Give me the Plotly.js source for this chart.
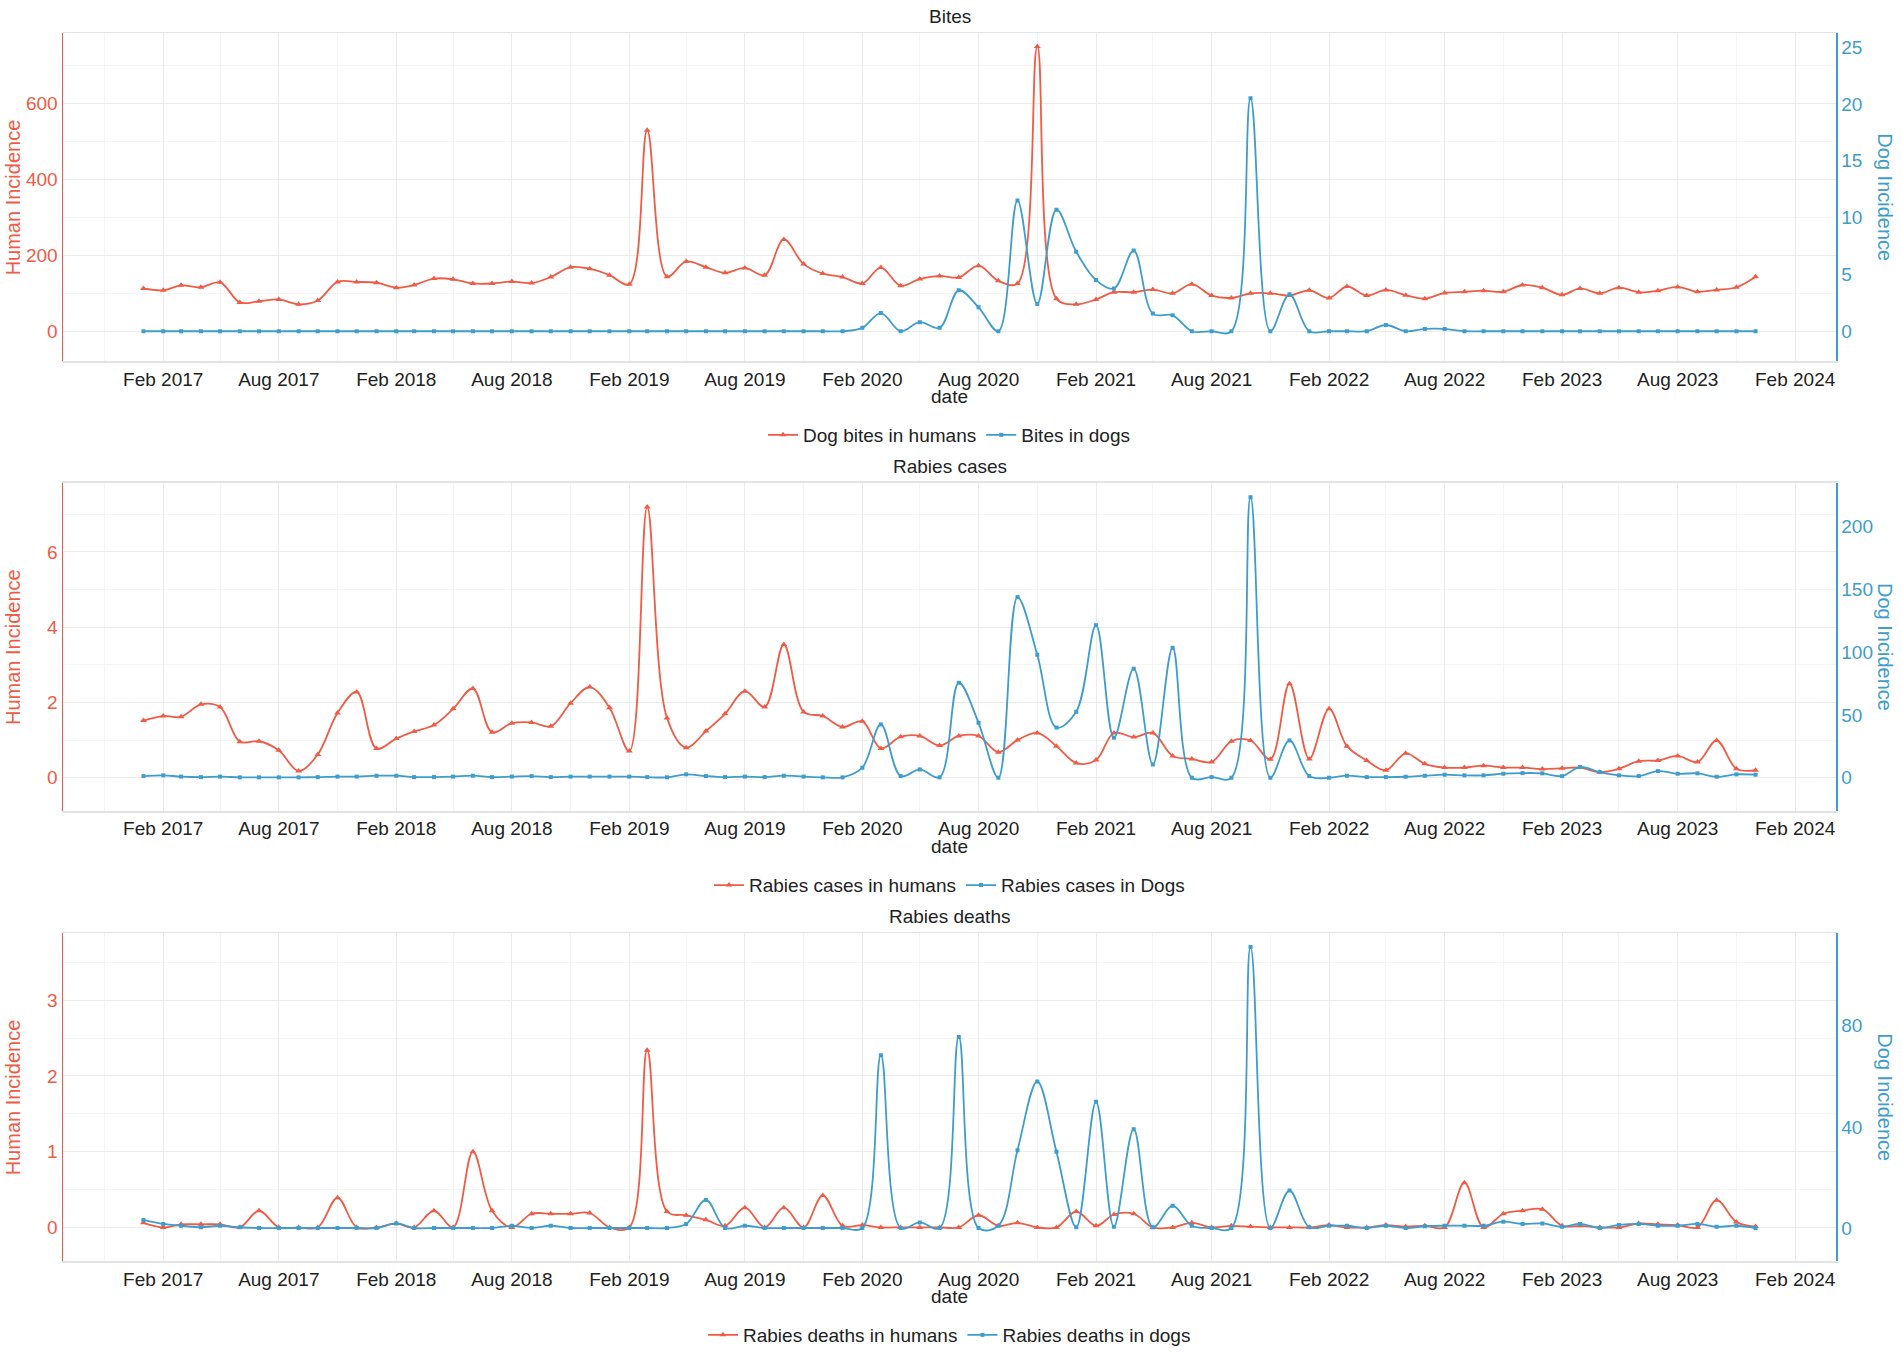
<!DOCTYPE html>
<html>
<head>
<meta charset="utf-8">
<script src="https://cdn.plot.ly/plotly-3.0.1.min.js"></script>
<style>html,body{margin:0;padding:0;background:#fff;}#chart{width:1902px;height:1354px;}</style>
</head>
<body>
<div id="chart"></div>
<script>
const months = [
 "2017-01-01","2017-02-01","2017-03-01","2017-04-01","2017-05-01","2017-06-01","2017-07-01","2017-08-01","2017-09-01","2017-10-01","2017-11-01","2017-12-01",
 "2018-01-01","2018-02-01","2018-03-01","2018-04-01","2018-05-01","2018-06-01","2018-07-01","2018-08-01","2018-09-01","2018-10-01","2018-11-01","2018-12-01",
 "2019-01-01","2019-02-01","2019-03-01","2019-04-01","2019-05-01","2019-06-01","2019-07-01","2019-08-01","2019-09-01","2019-10-01","2019-11-01","2019-12-01",
 "2020-01-01","2020-02-01","2020-03-01","2020-04-01","2020-05-01","2020-06-01","2020-07-01","2020-08-01","2020-09-01","2020-10-01","2020-11-01","2020-12-01",
 "2021-01-01","2021-02-01","2021-03-01","2021-04-01","2021-05-01","2021-06-01","2021-07-01","2021-08-01","2021-09-01","2021-10-01","2021-11-01","2021-12-01",
 "2022-01-01","2022-02-01","2022-03-01","2022-04-01","2022-05-01","2022-06-01","2022-07-01","2022-08-01","2022-09-01","2022-10-01","2022-11-01","2022-12-01",
 "2023-01-01","2023-02-01","2023-03-01","2023-04-01","2023-05-01","2023-06-01","2023-07-01","2023-08-01","2023-09-01","2023-10-01","2023-11-01","2023-12-01"
];

const bitesHumans = [
 113,108,121,116,129,76,79,84,71,81,130,130,
 128,115,122,139,137,126,126,131,127,143,169,165,
 148,124,530,144,184,169,154,167,148,242,177,152,
 143,126,168,120,138,146,142,173,133,126,751,86,
 71,84,103,103,110,100,124,94,88,100,100,94,
 108,88,118,94,109,95,86,101,104,107,104,122,
 115,96,113,100,115,103,107,117,104,109,116,144
];
const bitesDogs = [
 0,0,0,0,0,0,0,0,0,0,0,0,
 0,0,0,0,0,0,0,0,0,0,0,0,
 0,0,0,0,0,0,0,0,0,0,0,0,
 0,0.3,1.6,0,0.8,0.3,3.6,2.1,0,11.5,2.4,10.7,
 7.0,4.5,3.75,7.1,1.55,1.4,0,0,0,20.5,0,3.25,
 0,0,0,0,0.55,0,0.2,0.2,0,0,0,0,
 0,0,0,0,0,0,0,0,0,0,0,0
];
const casesHumans = [
 1.52,1.64,1.62,1.95,1.88,0.96,0.97,0.73,0.18,0.62,1.72,2.28,
 0.78,1.04,1.23,1.40,1.83,2.37,1.21,1.45,1.47,1.37,1.98,2.41,
 1.86,0.71,7.19,1.59,0.80,1.24,1.70,2.30,1.88,3.54,1.75,1.64,
 1.35,1.50,0.78,1.09,1.11,0.86,1.11,1.11,0.68,1.00,1.19,0.84,
 0.39,0.47,1.19,1.08,1.19,0.58,0.50,0.42,0.97,0.99,0.49,2.50,
 0.50,1.83,0.84,0.46,0.20,0.65,0.37,0.27,0.27,0.32,0.27,0.27,
 0.23,0.25,0.27,0.15,0.24,0.44,0.46,0.58,0.42,0.99,0.24,0.20
];
const casesDogs = [
 1.3,1.9,0.9,0.5,0.9,0.3,0.3,0.3,0.3,0.5,0.9,0.9,
 1.6,1.6,0.5,0.5,0.9,1.6,0.5,0.9,1.3,0.5,0.9,0.9,
 0.9,0.9,0.5,0.3,2.7,1.3,0.5,0.9,0.5,1.6,0.9,0.3,
 0.3,8,42.5,1.3,6.6,0.3,75.7,43.8,0,144,98,40,
 52.6,121.6,31.9,86.9,10.6,103.6,0,0.5,0,223.6,0,29.7,
 1.3,0,1.6,0.5,0.5,0.8,1.6,2.4,1.9,1.9,3.2,3.7,
 3.5,1.3,8.5,4.5,1.9,1.3,5.3,3.2,3.5,0.8,2.7,2.4
];
const deathsHumans = [
 0.06,0,0.04,0.04,0.04,0,0.22,0,0,0,0.39,0,
 0,0.05,0,0.22,0,1.0,0.22,0,0.18,0.18,0.18,0.19,
 0,0,2.34,0.21,0.16,0.1,0.02,0.26,0,0.26,0,0.42,
 0.02,0.03,0,0,0,0,0,0.16,0.02,0.06,0,0,
 0.21,0.02,0.17,0.18,0,0,0.06,0,0.02,0.01,0,0,
 0,0.03,0,0,0.03,0.01,0.02,0,0.59,0,0.18,0.22,
 0.24,0.02,0.02,0,0,0.05,0.04,0.03,0,0.36,0.07,0.01
];
const deathsDogs = [
 3.2,1.6,0.9,0.3,0.9,0.3,0,0,0,0,0,0,
 0,1.8,0,0,0,0,0,0.9,0,0.9,0,0,
 0,0,0,0,1.6,11.1,0,0.9,0,0,0,0,
 0,0,68.4,0,2.2,0,75.6,0,0.9,30.8,58,30.2,
 0.3,50,0.5,39.1,0.3,8.8,0.9,0,0,111.2,0,14.8,
 0.3,0.9,0.9,0,0.9,0,0.7,0.9,0.9,0.9,2.5,1.6,
 1.8,0.5,1.6,0,1.2,1.6,0.9,0.9,1.6,0.5,0.9,0
];

const subplotTitles = ["Bites","Rabies cases","Rabies deaths"];
const humanNames = ["Dog bites in humans","Rabies cases in humans","Rabies deaths in humans"];
const dogNames = ["Bites in dogs","Rabies cases in Dogs","Rabies deaths in dogs"];

const RED = "#EF5B45";
const BLUE = "#3E9DCC";
const FONT = "Liberation Sans, Arial, sans-serif";
const W = 1902, H = 1354;

const humanSeries = [bitesHumans, casesHumans, deathsHumans];
const dogSeries = [bitesDogs, casesDogs, deathsDogs];

// pixel layout of each panel (top, bottom) and axis ranges
const panels = [
  {top:33.5, bottom:361.5, left:[-79,785], right:[-2.64,26.2], ldt:200, rdt:5},
  {top:483.3, bottom:811.7, left:[-0.885,7.83], right:[-26.6,235], ldt:2, rdt:50},
  {top:934, bottom:1262.3, left:[-0.449,3.885], right:[-13.2,116.6], ldt:1, rdt:40}
];
const plotL = 63, plotR = 1836;
const xDomain = [plotL/W, plotR/W];

const data = [];
const layout = {
  width: W, height: H,
  margin: {l:0, r:0, t:0, b:0},
  paper_bgcolor: "#fff", plot_bgcolor: "#fff",
  font: {family: FONT, size: 19, color: "#222"},
  hovermode: false,
  showlegend: true,
  annotations: []
};

panels.forEach((p, k) => {
  const xa = k === 0 ? "x" : "x" + (k + 1);
  const yl = k === 0 ? "y" : "y" + (2*k + 1);
  const yr = "y" + (2*k + 2);
  const legName = k === 0 ? "legend" : "legend" + (k + 1);
  const ydom = [1 - p.bottom/H, 1 - p.top/H];

  data.push({
    x: months, y: humanSeries[k], name: humanNames[k], type: "scatter", mode: "lines+markers",
    xaxis: xa, yaxis: yl, legend: legName,
    line: {color: RED, width: 1.8, shape: "spline"},
    marker: {color: RED, symbol: "triangle-up", size: 6}
  });
  data.push({
    x: months, y: dogSeries[k], name: dogNames[k], type: "scatter", mode: "lines+markers",
    xaxis: xa, yaxis: yr, legend: legName,
    line: {color: BLUE, width: 1.8, shape: "spline"},
    marker: {color: BLUE, symbol: "square", size: 4}
  });

  const xKey = k === 0 ? "xaxis" : "xaxis" + (k + 1);
  const ylKey = k === 0 ? "yaxis" : "yaxis" + (2*k + 1);
  const yrKey = "yaxis" + (2*k + 2);

  layout[xKey] = {
    domain: xDomain, anchor: yl, type: "date",
    range: ["2016-08-28", "2024-04-05"],
    tick0: "2017-02-01", dtick: "M6", tickformat: "%b %Y",
    showgrid: true, gridcolor: "#ececec", gridwidth: 1,
    minor: {tick0: "2017-02-01", dtick: "M3", showgrid: true, gridcolor: "#f5f5f5", gridwidth: 1},
    showline: true, linecolor: "#e3e3e3", linewidth: 1.5, mirror: true,
    ticks: "", zeroline: false, automargin: false,
    tickfont: {family: FONT, size: 19, color: "#222"}
  };
  layout[ylKey] = {
    domain: ydom, anchor: xa, range: p.left,
    tick0: 0, dtick: p.ldt,
    showgrid: true, gridcolor: "#ececec", gridwidth: 1,
    minor: {dtick: p.ldt/2, showgrid: true, gridcolor: "#f5f5f5", gridwidth: 1},
    showline: true, linecolor: RED, linewidth: 1.5,
    ticks: "", zeroline: false, automargin: false,
    tickfont: {family: FONT, size: 19, color: RED}
  };
  layout[yrKey] = {
    overlaying: yl, anchor: xa, side: "right", range: p.right,
    tick0: 0, dtick: p.rdt,
    showgrid: false, showline: true, linecolor: BLUE, linewidth: 1.5,
    ticks: "", zeroline: false, automargin: false,
    tickfont: {family: FONT, size: 19, color: BLUE}
  };

  const midY = 1 - ((p.top + p.bottom)/2)/H;
  layout.annotations.push(
    {text: subplotTitles[k], xref: "paper", yref: "paper", x: (plotL+plotR)/2/W, y: 1 - (p.top - 16.5)/H,
     showarrow: false, xanchor: "center", yanchor: "middle", font: {family: FONT, size: 19, color: "#222"}},
    {text: "date", xref: "paper", yref: "paper", x: (plotL+plotR)/2/W, y: 1 - (p.bottom + 35.5)/H,
     showarrow: false, xanchor: "center", yanchor: "middle", font: {family: FONT, size: 19, color: "#222"}},
    {text: "Human Incidence", xref: "paper", yref: "paper", x: 13/W, y: midY, textangle: -90,
     showarrow: false, xanchor: "center", yanchor: "middle", font: {family: FONT, size: 20, color: RED}},
    {text: "Dog Incidence", xref: "paper", yref: "paper", x: 1885/W, y: midY, textangle: 90,
     showarrow: false, xanchor: "center", yanchor: "middle", font: {family: FONT, size: 20, color: BLUE}}
  );

  layout[legName] = {
    orientation: "h", x: (plotL+plotR)/2/W, xanchor: "center",
    y: 1 - (p.bottom + 73.5)/H, yanchor: "middle",
    bgcolor: "rgba(0,0,0,0)", font: {family: FONT, size: 19, color: "#222"},
    itemwidth: 30, tracegroupgap: 0
  };
});

Plotly.newPlot("chart", data, layout, {staticPlot: true, displayModeBar: false});
</script>
</body>
</html>
